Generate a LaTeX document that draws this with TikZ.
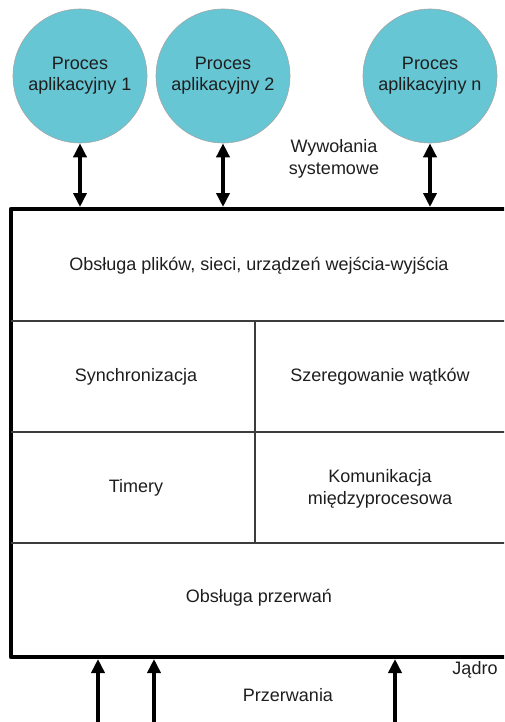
\documentclass[tikz,border=0pt]{standalone}
\usepackage{fontspec}
\setmainfont{Liberation Sans}
\usetikzlibrary{arrows.meta}
\definecolor{proc}{RGB}{102,198,212}
\definecolor{divline}{RGB}{60,60,60}
\definecolor{ink}{RGB}{30,30,30}
\tikzset{
  procnode/.style={circle, fill=proc, draw=gray!70, line width=0.6pt, minimum size=134pt, inner sep=0pt, align=center, text=ink, font=\fontsize{18}{21}\selectfont},
  lbl/.style={align=center, text=ink, font=\fontsize{18}{22}\selectfont, inner sep=0pt},
  frame/.style={line width=4.5pt, line cap=round, line join=round},
  divider/.style={line width=1.4pt, draw=divline},
  sysarrow/.style={line width=3.8pt, {Triangle[width=13pt,length=14pt]}-{Triangle[width=13pt,length=14pt]}},
  irqarrow/.style={line width=3.8pt, -{Triangle[width=13pt,length=14pt]}},
}
\begin{document}
\begin{tikzpicture}[x=1pt,y=-1pt]
\useasboundingbox (0,0) rectangle (504,722);
\clip (0,0) rectangle (504,722);

% application processes
\node[procnode] (p1) at (80,76) {Proces\\aplikacyjny 1};
\node[procnode] (p2) at (223,76) {Proces\\aplikacyjny 2};
\node[procnode] (pn) at (430,76) {Proces\\aplikacyjny n};

% kernel frame (right side continues past the edge)
\coordinate (kTL) at (11,209);
\coordinate (kBL) at (11,657);
\draw[frame] (520,209) -- (kTL) -- (kBL) -- (520,657);

% layer separators
\draw[divider] (11,321) -- (520,321);
\draw[divider] (11,432) -- (520,432);
\draw[divider] (11,543) -- (520,543);
\draw[divider] (255,321) -- (255,543);

% layer labels
\node[lbl] (io) at (259,266) {Obsługa plików, sieci, urządzeń wejścia-wyjścia};
\node[lbl] (sync) at (136,377) {Synchronizacja};
\node[lbl] (sched) at (380,377) {Szeregowanie wątków};
\node[lbl] (tim) at (136,488) {Timery};
\node[lbl] (ipc) at (380,489) {Komunikacja\\międzyprocesowa};
\node[lbl] (intr) at (259,598) {Obsługa przerwań};

% system calls
\coordinate (k1) at (80,207);
\coordinate (k2) at (223,207);
\coordinate (kn) at (430,207);
\draw[sysarrow] (p1.south) -- (k1);
\draw[sysarrow] (p2.south) -- (k2);
\draw[sysarrow] (pn.south) -- (kn);
\node[lbl] (sc) at (334,159) {Wywołania\\systemowe};

% interrupts
\coordinate (i1s) at (98,730);
\coordinate (i2s) at (154,730);
\coordinate (i3s) at (395,730);
\coordinate (i1) at (98,659);
\coordinate (i2) at (154,659);
\coordinate (i3) at (395,659);
\draw[irqarrow] (i1s) -- (i1);
\draw[irqarrow] (i2s) -- (i2);
\draw[irqarrow] (i3s) -- (i3);
\node[lbl] (irq) at (288,695) {Przerwania};
\node[lbl] (kern) at (475,670) {Jądro};
\end{tikzpicture}
\end{document}
